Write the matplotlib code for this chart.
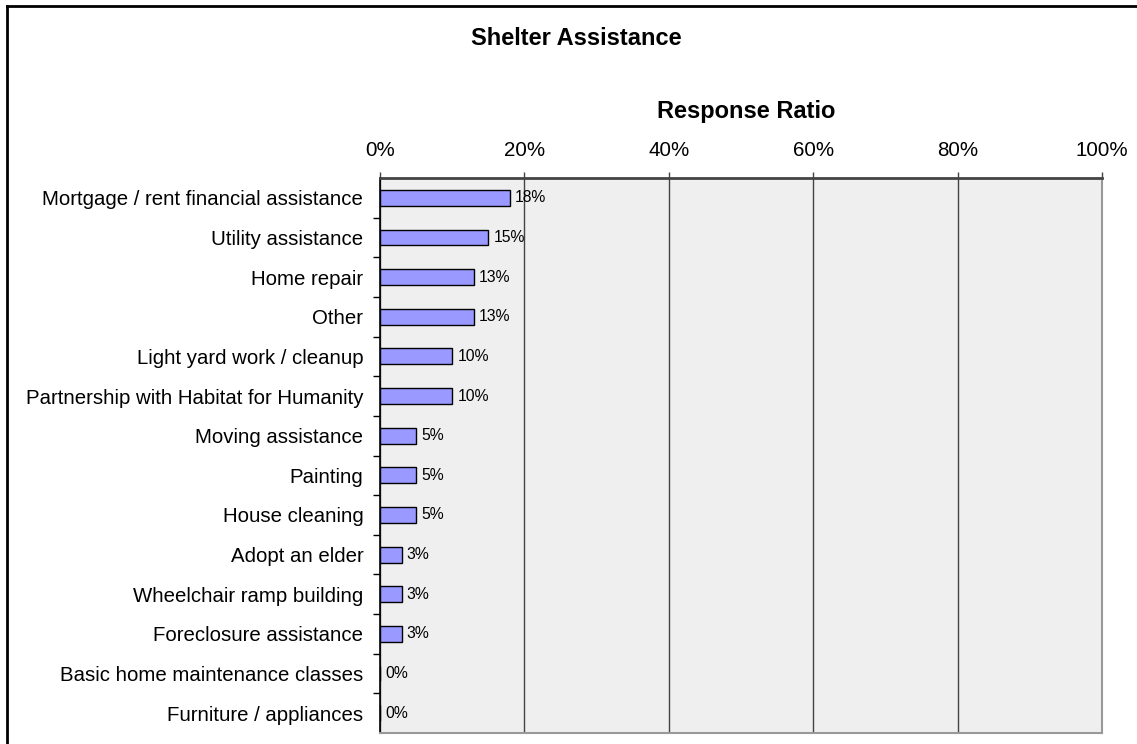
import matplotlib.pyplot as plt
from matplotlib.lines import Line2D

plt.rcParams['font.family'] = ['Liberation Sans', 'DejaVu Sans']

categories = [
    "Mortgage / rent financial assistance",
    "Utility assistance",
    "Home repair",
    "Other",
    "Light yard work / cleanup",
    "Partnership with Habitat for Humanity",
    "Moving assistance",
    "Painting",
    "House cleaning",
    "Adopt an elder",
    "Wheelchair ramp building",
    "Foreclosure assistance",
    "Basic home maintenance classes",
    "Furniture / appliances",
]
ratios = [18, 15, 13, 13, 10, 10, 5, 5, 5, 3, 3, 3, 0, 0]
xticks = [0, 20, 40, 60, 80, 100]

W, H = 1137, 744
fig = plt.figure(figsize=(W / 100, H / 100), dpi=100)
ax = fig.add_axes([380 / W, 1 - 733 / H, 722 / W, 555 / H])
ax.set_facecolor('#efefef')

n = len(categories)
ypos = list(range(n))
ax.barh(ypos, ratios, height=0.4, color='#9999ff', edgecolor='black', linewidth=1, zorder=3)
for y, v in zip(ypos, ratios):
    ax.text(v + 0.7, y, f"{v}%", va='center', ha='left', fontsize=11.3, zorder=4)

ax.set_xlim(0, 100)
ax.set_ylim(n - 0.5, -0.5)
ax.xaxis.tick_top()
ax.set_xticks(xticks)
ax.set_xticklabels([f"{t}%" for t in xticks], fontsize=14.8)
ax.tick_params(axis='x', direction='out', length=4.3, width=1, color='#444444', pad=9)

ax.set_yticks(ypos)
ax.set_yticklabels(categories, fontsize=14.7)
ax.set_yticks([i + 0.5 for i in range(n - 1)], minor=True)
ax.tick_params(axis='y', which='major', length=0, pad=12)
ax.tick_params(axis='y', which='minor', direction='out', length=5, width=1, color='black')

ax.grid(axis='x', color='#444444', linewidth=1, zorder=1)
ax.spines['top'].set_color('#444444')
ax.spines['top'].set_linewidth(2)
ax.spines['left'].set_color('black')
ax.spines['left'].set_linewidth(1.2)
for side in ('right', 'bottom'):
    ax.spines[side].set_color('#999999')
    ax.spines[side].set_linewidth(1.5)

fig.text(576 / W, 1 - 45 / H, "Shelter Assistance", ha='center', va='baseline',
         fontsize=17, fontweight='bold')
fig.text(746 / W, 1 - 118 / H, "Response Ratio", ha='center', va='baseline',
         fontsize=17, fontweight='bold')

# outer chart frame (left and top edges)
fig.add_artist(Line2D([7 / W, 7 / W], [0, 1 - 6 / H], color='black', linewidth=2,
                      transform=fig.transFigure))
fig.add_artist(Line2D([7 / W, 1], [1 - 6 / H, 1 - 6 / H], color='black', linewidth=2,
                      transform=fig.transFigure))

fig.savefig("out.png", dpi=100)
